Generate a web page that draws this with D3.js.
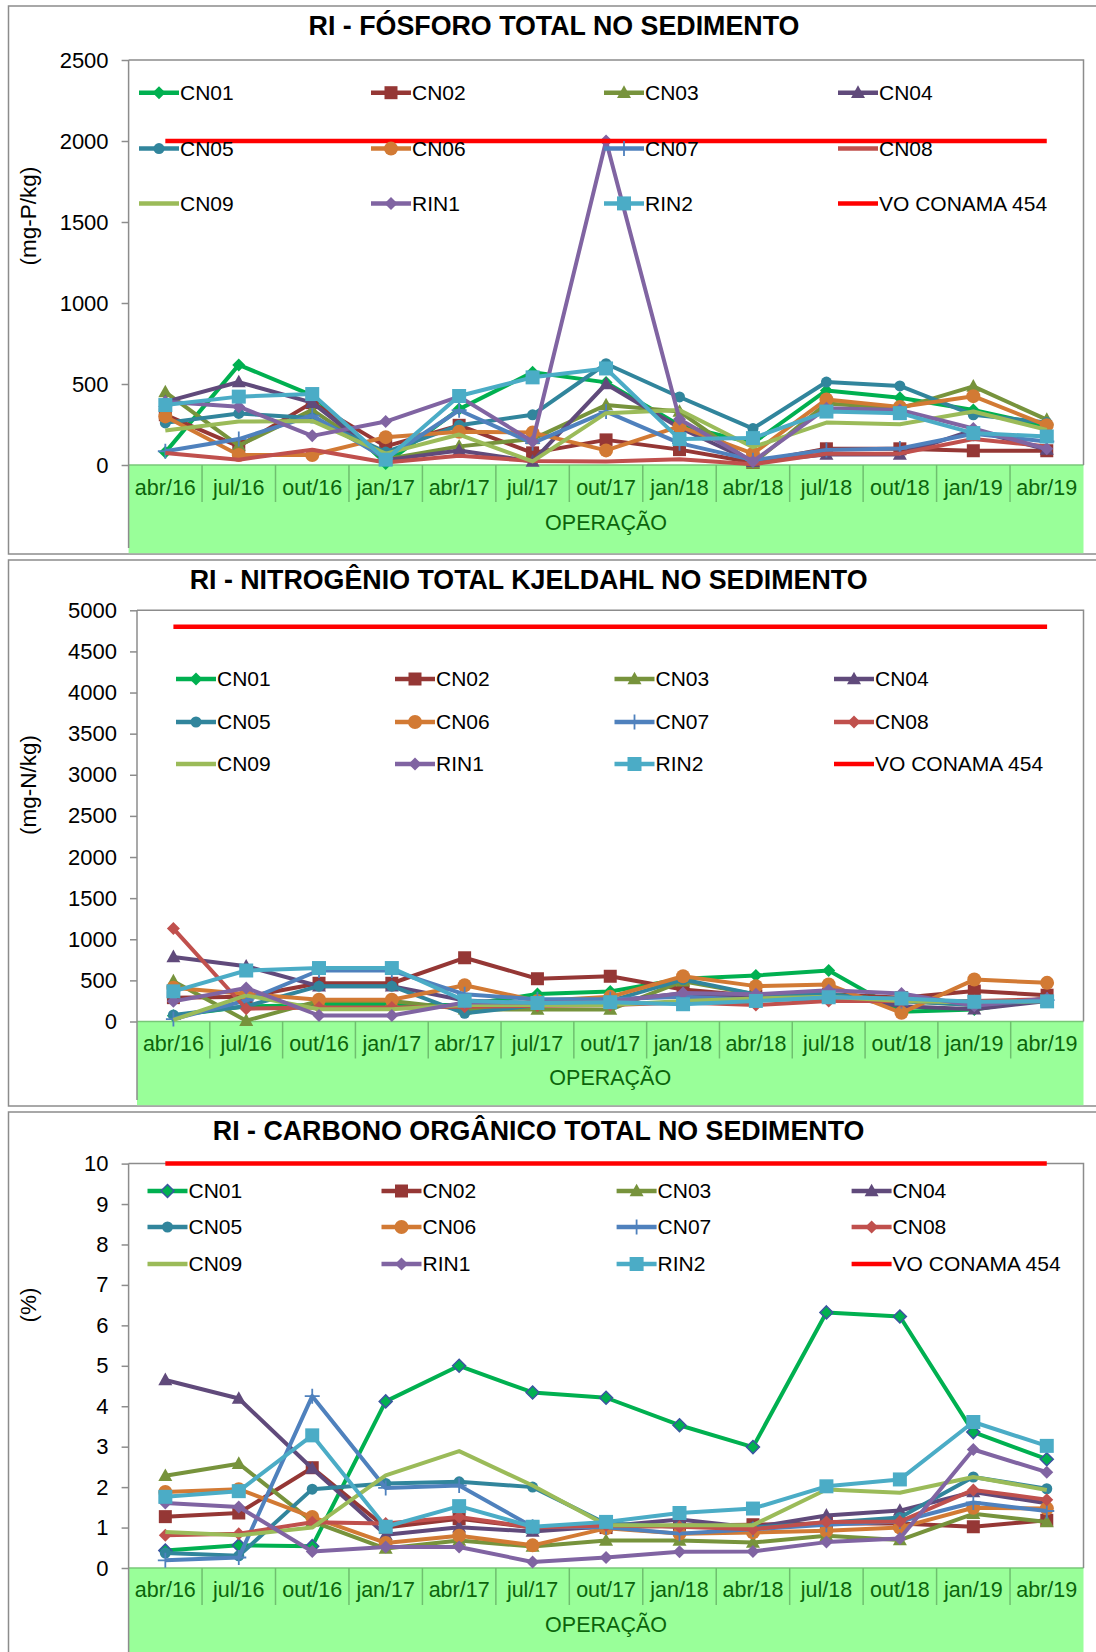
<!DOCTYPE html>
<html>
<head>
<meta charset="utf-8">
<title>RI - Sedimento</title>
<script src="https://cdn.jsdelivr.net/npm/d3@7"></script>
<style>
  body { margin: 0; background: #fff; }
  svg text { font-family: "Liberation Sans", Arial, sans-serif; }
</style>
</head>
<body>
<svg id="chart" width="1096" height="1652"></svg>
<script>
// categories and series
const categories = ["abr/16", "jul/16", "out/16", "jan/17", "abr/17", "jul/17", "out/17",
                    "jan/18", "abr/18", "jul/18", "out/18", "jan/19", "abr/19"];
const seriesNames = ["CN01", "CN02", "CN03", "CN04", "CN05", "CN06", "CN07", "CN08", "CN09", "RIN1", "RIN2"];
const limitName = "VO CONAMA 454";

// Fósforo total (mg-P/kg), one row per series
const fosforo = [
  [78, 618, 430, 10, 345, 572, 510, 245, 135, 460, 415, 340, 240],
  [310, 115, 385, 115, 245, 75, 155, 95, 16, 100, 100, 88, 88],
  [450, 120, 340, 35, 115, 160, 370, 330, 10, 380, 350, 485, 280],
  [390, 512, 385, 30, 90, 22, 500, 230, 20, 65, 65, 215, 95],
  [260, 318, 290, 80, 245, 310, 625, 420, 225, 512, 488, 310, 262],
  [300, 62, 62, 172, 205, 200, 90, 238, 70, 405, 358, 425, 245],
  [85, 160, 305, 40, 338, 135, 330, 135, 30, 92, 102, 193, 145],
  [74, 33, 94, 15, 57, 25, 22, 35, 5, 70, 70, 160, 115],
  [213, 268, 272, 70, 188, 22, 320, 340, 110, 262, 252, 330, 217],
  [390, 360, 180, 268, 422, 145, 2000, 283, 22, 350, 340, 225, 100],
  [370, 422, 438, 33, 426, 541, 596, 160, 166, 330, 320, 197, 176]
];
const fosforoLimit = 2000;
const fosforoTicks = [0, 500, 1000, 1500, 2000, 2500];

// Nitrogênio total Kjeldahl (mg-N/kg)
const nitrogenio = [
  [70, 185, 200, 200, 200, 335, 365, 520, 560, 620, 120, 145, 285],
  [290, 300, 465, 465, 775, 520, 550, 390, 310, 330, 290, 370, 320],
  [490, 10, 250, 250, 150, 145, 145, 490, 330, 330, 250, 200, 250],
  [785, 672, 430, 430, 255, 220, 250, 340, 300, 330, 185, 150, 250],
  [80, 185, 430, 430, 100, 200, 250, 510, 330, 330, 250, 200, 260],
  [410, 335, 265, 265, 440, 250, 300, 550, 430, 450, 105, 510, 470],
  [30, 255, 620, 620, 330, 270, 270, 300, 260, 280, 250, 230, 260],
  [1130, 155, 170, 170, 180, 190, 200, 230, 200, 250, 250, 250, 270],
  [20, 318, 150, 150, 200, 200, 200, 250, 280, 300, 250, 230, 250],
  [245, 408, 73, 73, 230, 230, 240, 347, 330, 380, 340, 190, 280],
  [367, 620, 650, 650, 253, 225, 235, 210, 250, 295, 280, 240, 245]
];
const nitrogenioLimit = 4800;
const nitrogenioTicks = [0, 500, 1000, 1500, 2000, 2500, 3000, 3500, 4000, 4500, 5000];

// Carbono orgânico total (%)
const carbono = [
  [0.43, 0.56, 0.54, 4.12, 5.0, 4.34, 4.21, 3.53, 2.99, 6.32, 6.22, 3.36, 2.69],
  [1.27, 1.36, 2.48, 1.0, 1.22, 1.0, 1.0, 1.05, 1.07, 1.1, 1.1, 1.02, 1.18],
  [2.28, 2.58, 1.15, 0.48, 0.68, 0.53, 0.68, 0.68, 0.63, 0.8, 0.69, 1.34, 1.14],
  [4.65, 4.19, 2.46, 0.82, 1.01, 0.9, 1.03, 1.2, 1.0, 1.3, 1.42, 1.88, 1.6],
  [0.37, 0.3, 1.95, 2.09, 2.13, 2.0, 1.1, 1.02, 1.0, 1.12, 1.25, 2.25, 1.96],
  [1.88, 1.95, 1.26, 0.62, 0.8, 0.56, 0.98, 0.85, 0.88, 0.92, 1.0, 1.49, 1.47],
  [0.19, 0.26, 4.25, 1.98, 2.04, 1.02, 1.01, 0.85, 0.96, 1.07, 1.15, 1.62, 1.41],
  [0.81, 0.85, 1.13, 1.1, 1.26, 1.0, 1.05, 1.02, 0.96, 1.14, 1.15, 1.93, 1.69],
  [0.89, 0.81, 1.0, 2.29, 2.89, 2.04, 1.06, 1.06, 1.06, 1.94, 1.86, 2.25, 1.93],
  [1.61, 1.51, 0.41, 0.52, 0.52, 0.15, 0.26, 0.4, 0.41, 0.64, 0.73, 2.93, 2.37],
  [1.76, 1.9, 3.28, 1.02, 1.53, 1.02, 1.14, 1.36, 1.47, 2.02, 2.19, 3.61, 3.02]
];
const carbonoLimit = 10;
const carbonoTicks = [0, 1, 2, 3, 4, 5, 6, 7, 8, 9, 10];

// look of each series (Excel-like)
const colors = ["#00b050", "#953735", "#77933c", "#604a7b", "#31859c", "#d27a34",
                "#4f81bd", "#c0504d", "#9bbb59", "#8064a2", "#4bacc6"];
const markers = ["diamond", "square", "triangle", "triangle", "circle", "circle",
                 "plus", "diamond", "none", "diamond", "square"];
const limitColor = "#ff0000";

function markerPath(type, s) {
  if (type == "diamond") return `M0,${-s}L${s},0L0,${s}L${-s},0Z`;
  if (type == "square") return `M${-s},${-s}h${2 * s}v${2 * s}h${-2 * s}Z`;
  if (type == "triangle") return `M0,${-s * 1.05}L${s},${s * 0.75}L${-s},${s * 0.75}Z`;
  if (type == "circle") return d3.symbol(d3.symbolCircle, Math.PI * s * s)();
  if (type == "plus") return `M${-s},0H${s}M0,${-s}V${s}`;
  return "";
}
function markerSize(i) {
  return [6.5, 6.5, 7, 7, 5.5, 7, 7.5, 6.5, 0, 6.5, 7][i];
}

const svg = d3.select("#chart");
const plotRight = 1083.5;
const labelFont = "Liberation Sans, Arial, sans-serif";

function drawMarker(sel, i, cfg) {
  const type = (cfg.noMarker || []).includes(i) ? "none" : markers[i];
  if (type == "none") return;
  const p = sel.append("path").attr("d", markerPath(type, markerSize(i)));
  if (type == "plus") {
    p.attr("fill", "none").attr("stroke", colors[i]).attr("stroke-width", 1.8);
  } else {
    p.attr("fill", colors[i]);
    if (i == 0 && cfg.cn01Outline) p.attr("stroke", "#3a55a0").attr("stroke-width", 1.5);
  }
}

function drawChart(cfg) {
  const g = svg.append("g");

  // chart frame
  g.append("rect")
    .attr("x", 8.5).attr("y", cfg.top)
    .attr("width", 1120).attr("height", cfg.bottom - cfg.top)
    .attr("fill", "#fff").attr("stroke", "#8c8c8c").attr("stroke-width", 1.5);

  const x = d3.scaleBand().domain(categories).range([cfg.left, plotRight]);
  const y = d3.scaleLinear().domain([0, d3.max(cfg.ticks)]).range([cfg.y0, cfg.yTop]);
  const cx = c => x(c) + x.bandwidth() / 2;

  // green category band
  g.append("rect")
    .attr("x", cfg.left).attr("y", cfg.y0)
    .attr("width", plotRight - cfg.left).attr("height", cfg.bottom - cfg.y0 - 0.8)
    .attr("fill", "#99ff99");
  g.append("line")
    .attr("x1", cfg.left).attr("x2", plotRight).attr("y1", cfg.y0).attr("y2", cfg.y0)
    .attr("stroke", "#78c878").attr("stroke-width", 1.5);
  g.selectAll(".sep")
    .data(categories.slice(1))
    .enter().append("line")
    .attr("x1", d => x(d)).attr("x2", d => x(d))
    .attr("y1", cfg.y0).attr("y2", cfg.y0 + 37)
    .attr("stroke", "#6fbf6f").attr("stroke-width", 1.5);
  g.selectAll(".cat")
    .data(categories)
    .enter().append("text")
    .attr("x", d => cx(d)).attr("y", cfg.catY)
    .attr("text-anchor", "middle").attr("dy", "0.35em")
    .attr("font-size", 21.5).attr("fill", "#0b640b")
    .text(d => d);
  g.append("text")
    .attr("x", (cfg.left + plotRight) / 2).attr("y", cfg.opY)
    .attr("text-anchor", "middle").attr("dy", "0.35em")
    .attr("font-size", 21.5).attr("fill", "#0b640b")
    .text("OPERAÇÃO");

  // plot border (top and right)
  g.append("path")
    .attr("d", `M${cfg.left},${cfg.yTop}H${plotRight}V${cfg.y0}`)
    .attr("fill", "none").attr("stroke", "#8c8c8c").attr("stroke-width", 1.5);

  // y axis
  const yAxis = d3.axisLeft(y).tickValues(cfg.ticks).tickSize(7).tickSizeOuter(0)
    .tickPadding(13).tickFormat(d3.format("d"));
  const ax = g.append("g").attr("transform", `translate(${cfg.left},0)`).call(yAxis);
  ax.select(".domain").remove();
  ax.selectAll(".tick line").attr("stroke", "#8c8c8c").attr("stroke-width", 1.5);
  ax.selectAll(".tick text").attr("font-size", 22).attr("fill", "#000").attr("font-family", labelFont);
  g.append("line")
    .attr("x1", cfg.left).attr("x2", cfg.left)
    .attr("y1", cfg.yTop).attr("y2", cfg.bottom - 6)
    .attr("stroke", "#8c8c8c").attr("stroke-width", 1.5);

  g.append("text")
    .attr("transform", `translate(28.5,${cfg.ylabelY}) rotate(-90)`)
    .attr("text-anchor", "middle").attr("dy", "0.35em")
    .attr("font-size", 22.5).attr("fill", "#000")
    .text(cfg.ylabel);

  // title
  g.append("text")
    .attr("x", cfg.titleX).attr("y", cfg.titleY)
    .attr("text-anchor", "middle")
    .attr("font-size", 26.8).attr("font-weight", "bold").attr("fill", "#000")
    .text(cfg.title);

  // series
  const line = d3.line().x((d, j) => cx(categories[j])).y(d => y(d));
  cfg.values.forEach((vals, i) => {
    const sg = g.append("g");
    sg.append("path")
      .attr("d", line(vals))
      .attr("fill", "none").attr("stroke", colors[i])
      .attr("stroke-width", 4).attr("stroke-linejoin", "round");
    vals.forEach((v, j) => {
      const m = sg.append("g").attr("transform", `translate(${cx(categories[j])},${y(v)})`);
      drawMarker(m, i, cfg);
    });
  });
  const limitVals = categories.map(() => cfg.limit);
  g.append("path")
    .attr("d", line(limitVals))
    .attr("fill", "none").attr("stroke", limitColor).attr("stroke-width", 4.5);

  // legend, 4 columns x 3 rows
  const names = seriesNames.concat([limitName]);
  names.forEach((name, i) => {
    const row = Math.floor(i / 4), col = i % 4;
    const lx = cfg.legSample[col], ly = cfg.legRows[row];
    const lg = g.append("g");
    lg.append("line")
      .attr("x1", lx).attr("x2", lx + 40).attr("y1", ly).attr("y2", ly)
      .attr("stroke", i < seriesNames.length ? colors[i] : limitColor)
      .attr("stroke-width", 4.5);
    if (i < seriesNames.length) {
      drawMarker(lg.append("g").attr("transform", `translate(${lx + 20},${ly})`), i, cfg);
    }
    lg.append("text")
      .attr("x", lx + 41).attr("y", ly).attr("dy", "0.35em")
      .attr("font-size", 21).attr("fill", "#000")
      .text(name);
  });
}

drawChart({
  title: "RI - FÓSFORO TOTAL NO SEDIMENTO", titleX: 554, titleY: 35,
  ylabel: "(mg-P/kg)", ylabelY: 216,
  top: 6, bottom: 554, left: 128.6, yTop: 60, y0: 465,
  ticks: fosforoTicks, values: fosforo, limit: fosforoLimit,
  catY: 487, opY: 522, noMarker: [7],
  legRows: [92.7, 148.6, 203.4], legSample: [139, 371, 604, 838]
});

drawChart({
  title: "RI - NITROGÊNIO TOTAL KJELDAHL NO SEDIMENTO", titleX: 528.6, titleY: 589,
  ylabel: "(mg-N/kg)", ylabelY: 785,
  top: 560, bottom: 1106, left: 137, yTop: 610.3, y0: 1021.5,
  ticks: nitrogenioTicks, values: nitrogenio, limit: nitrogenioLimit,
  catY: 1043, opY: 1077,
  legRows: [679, 722, 764], legSample: [176, 395, 614.5, 834]
});

drawChart({
  title: "RI - CARBONO ORGÂNICO TOTAL NO SEDIMENTO", titleX: 538.6, titleY: 1140,
  ylabel: "(%)", ylabelY: 1305,
  top: 1112, bottom: 1660, left: 128.6, yTop: 1163.6, y0: 1568,
  ticks: carbonoTicks, values: carbono, limit: carbonoLimit,
  catY: 1589, opY: 1624, cn01Outline: true,
  legRows: [1191, 1227, 1264], legSample: [147.5, 381.5, 616.6, 851.6]
});
</script>
</body>
</html>
